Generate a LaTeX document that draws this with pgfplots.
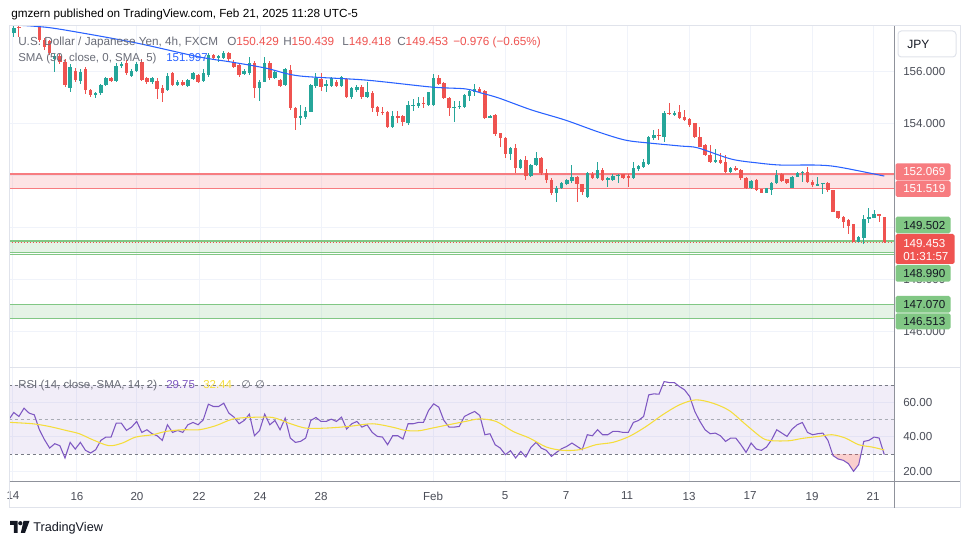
\documentclass[border=0pt]{standalone}
\usepackage{pgfplots}
\pgfplotsset{compat=1.18}
\usepackage{pgfplotstable}
\usepackage{fontspec}
\setmainfont{Liberation Sans}
\newfontfamily\dejavu{DejaVu Sans}

\definecolor{up}{HTML}{26A69A}
\definecolor{dn}{HTML}{EF5350}
\definecolor{smac}{HTML}{2962FF}
\definecolor{rsic}{HTML}{7E57C2}
\definecolor{rsima}{HTML}{F5DD3B}
\definecolor{gridc}{HTML}{F0F3FA}
\definecolor{zr}{HTML}{F77C80}
\definecolor{zg}{HTML}{81C784}
\definecolor{axtext}{HTML}{4A4D57}
\definecolor{legtext}{HTML}{6A6D78}
\definecolor{framec}{HTML}{E0E3EB}
\definecolor{scalec}{HTML}{8F929B}
\definecolor{dashc}{HTML}{787B86}
\definecolor{dash50}{HTML}{A9ACB5}
\definecolor{boxtext}{HTML}{131722}

\pgfplotstableread{
i o h l c
0 157.50 157.80 157.35 157.69
1 157.75 157.85 157.35 157.70
2 157.90 158.15 157.85 158.05
3 158.05 158.30 158.00 158.20
4 158.20 158.30 157.90 158.00
5 158.00 158.10 157.15 157.23
6 157.23 157.30 156.85 156.95
7 157.20 157.25 156.65 156.72
8 156.50 156.70 156.00 156.62
9 156.60 156.70 156.30 156.40
10 156.40 156.50 155.44 155.50
11 155.40 156.30 155.24 156.20
12 156.05 156.15 155.60 155.70
13 155.65 156.10 155.55 156.00
14 156.10 156.20 155.15 155.30
15 155.30 155.35 155.05 155.12
16 155.10 155.22 155.00 155.18
17 155.18 155.55 155.10 155.50
18 155.50 155.80 155.45 155.76
19 155.76 155.80 155.60 155.66
20 155.66 156.35 155.60 156.25
21 156.25 156.40 156.15 156.30
22 156.35 156.45 155.90 155.95
23 155.85 156.10 155.80 156.05
24 156.05 156.40 156.00 156.30
25 156.40 156.50 155.65 155.70
26 155.75 155.80 155.55 155.60
27 155.60 155.80 155.55 155.75
28 155.65 155.75 154.95 155.35
29 155.40 155.50 154.86 155.20
30 155.30 155.95 155.25 155.85
31 155.95 156.00 155.45 155.50
32 155.50 155.68 155.45 155.63
33 155.63 155.68 155.45 155.50
34 155.46 155.72 155.41 155.69
35 155.72 156.00 155.70 155.95
36 155.88 155.93 155.58 155.63
37 155.67 156.10 155.62 155.95
38 155.88 156.72 155.82 156.65
39 156.65 156.70 156.45 156.53
40 156.53 156.65 156.40 156.62
41 156.53 156.80 156.50 156.74
42 156.72 156.76 156.44 156.49
43 156.40 156.45 156.15 156.21
44 156.27 156.30 155.82 155.88
45 155.92 156.10 155.88 156.05
46 155.97 156.59 155.90 156.33
47 156.33 156.44 154.99 155.37
48 155.37 155.70 154.88 155.63
49 155.63 156.56 155.60 156.36
50 156.33 156.44 155.70 155.76
51 155.76 156.05 155.72 156.01
52 155.69 155.75 155.41 155.46
53 155.50 156.15 155.45 156.10
54 156.08 156.27 154.55 154.60
55 154.60 154.65 153.77 154.22
56 154.26 154.73 153.96 154.31
57 154.26 154.67 154.20 154.51
58 154.47 155.55 154.45 155.50
59 155.46 155.95 155.40 155.76
60 155.72 155.97 155.28 155.44
61 155.48 155.69 155.24 155.52
62 155.46 155.80 155.42 155.76
63 155.63 155.68 155.43 155.47
64 155.46 155.85 155.42 155.80
65 155.72 155.78 154.99 155.03
66 155.03 155.42 154.98 155.37
67 155.31 155.50 155.25 155.44
68 155.41 155.50 154.98 155.03
69 155.05 155.63 155.00 155.24
70 155.18 155.25 154.47 154.63
71 154.67 154.70 154.32 154.47
72 154.47 154.67 154.35 154.45
73 154.47 154.50 153.86 153.90
74 153.90 154.50 153.83 154.32
75 154.30 154.50 154.03 154.27
76 154.32 154.35 153.94 154.09
77 154.03 154.88 153.96 154.73
78 154.71 154.96 154.50 154.73
79 154.71 155.05 154.63 154.82
80 154.82 155.05 154.60 154.78
81 154.73 155.25 154.70 155.22
82 154.73 155.91 154.70 155.76
83 155.76 155.88 155.50 155.53
84 155.56 155.60 154.95 154.99
85 155.01 155.05 154.32 154.63
86 154.63 154.88 154.06 154.67
87 154.65 154.88 154.58 154.71
88 154.67 155.15 154.60 155.12
89 155.09 155.30 154.88 155.27
90 155.24 155.53 155.09 155.35
91 155.35 155.42 155.18 155.22
92 155.27 155.30 154.20 154.24
93 154.24 154.35 154.22 154.32
94 154.35 154.38 153.55 153.60
95 153.64 153.66 153.13 153.45
96 153.45 153.50 152.68 152.83
97 152.83 153.13 152.62 153.06
98 153.06 153.22 152.10 152.30
99 152.30 152.65 152.25 152.62
100 152.62 152.78 151.85 152.01
101 152.01 152.45 151.97 152.42
102 152.42 152.91 152.38 152.68
103 152.68 152.72 152.05 152.10
104 152.10 152.27 151.72 151.85
105 151.85 151.91 151.27 151.33
106 151.33 151.60 150.99 151.55
107 151.53 151.78 151.50 151.72
108 151.68 151.90 151.65 151.85
109 151.81 152.42 151.72 151.97
110 151.97 152.00 150.99 151.68
111 151.68 151.70 151.27 151.40
112 151.20 152.15 151.15 152.10
113 152.06 152.17 151.88 151.91
114 151.91 152.55 151.88 152.23
115 152.23 152.32 151.80 151.85
116 151.88 151.95 151.59 151.91
117 151.85 152.06 151.80 152.01
118 152.01 152.06 151.72 152.04
119 152.06 152.08 151.90 151.94
120 151.97 152.06 151.59 151.96
121 151.94 152.55 151.90 152.32
122 152.27 152.42 152.20 152.40
123 152.36 152.65 152.32 152.53
124 152.45 153.55 152.42 153.51
125 153.45 153.77 153.38 153.58
126 153.58 153.79 153.38 153.55
127 153.51 154.50 153.32 154.44
128 154.44 154.79 154.35 154.37
129 154.37 154.50 154.32 154.41
130 154.45 154.73 154.20 154.22
131 154.28 154.54 154.10 154.15
132 154.19 154.22 153.90 153.96
133 154.03 154.05 153.47 153.51
134 153.51 153.90 153.10 153.13
135 153.19 153.22 152.78 152.81
136 152.81 153.19 152.49 152.55
137 152.55 153.04 152.50 152.61
138 152.61 152.87 152.45 152.49
139 152.55 152.81 152.10 152.14
140 152.17 152.35 152.10 152.30
141 152.29 152.40 152.19 152.27
142 152.23 152.25 151.85 151.91
143 151.94 151.97 151.50 151.53
144 151.53 151.85 151.50 151.81
145 151.85 151.87 151.42 151.46
146 151.49 151.50 151.33 151.36
147 151.36 151.55 151.33 151.53
148 151.46 151.78 151.27 151.74
149 151.72 152.23 151.70 152.04
150 152.06 152.10 151.78 151.81
151 151.87 151.90 151.70 151.72
152 151.55 152.00 151.53 151.97
153 151.97 152.15 151.95 152.10
154 152.10 152.19 151.78 152.17
155 152.17 152.36 151.74 151.76
156 151.78 151.85 151.59 151.65
157 151.65 151.97 151.65 151.68
158 151.72 151.74 151.29 151.74
159 151.74 151.75 151.40 151.46
160 151.46 151.48 150.60 150.63
161 150.65 150.67 150.35 150.40
162 150.44 150.46 149.99 150.24
163 150.31 150.33 149.76 150.09
164 150.14 150.16 149.45 149.47
165 149.47 149.70 149.45 149.67
166 149.63 150.48 149.37 150.35
167 150.37 150.78 150.18 150.40
168 150.40 150.69 150.38 150.53
169 150.53 150.55 150.24 150.47
170 150.429 150.439 149.418 149.453
}\candles

\pgfplotstableread{
i v
-1 157.82
4 157.76
8.9 157.65
23.1 157.15
36.2 156.58
42.6 156.38
49.2 156.15
55.7 155.85
68.7 155.69
81.6 155.42
88.2 155.35
91.3 155.19
94.7 155.00
101.1 154.54
107.7 154.15
114.2 153.69
119.4 153.38
123.9 153.27
130.3 153.15
133.6 153.08
140.1 152.65
145.3 152.50
149.8 152.42
156.5 152.42
160.9 152.35
170 151.997
}\smadata

\pgfplotstableread{
i r
-1 49.97
0 54.23
1 51.91
2 56.74
3 53.84
4 52.87
5 44.18
6 38.38
7 33.55
8 36.06
9 34.90
10 27.75
11 36.84
12 32.97
13 36.84
14 32.20
15 30.65
16 32.58
17 38.00
18 39.93
19 39.93
20 48.04
21 48.04
22 43.79
23 45.72
24 49.01
25 42.63
26 44.18
27 41.86
28 40.70
29 38.00
30 47.08
31 42.63
32 43.79
33 42.63
34 47.08
35 48.43
36 47.08
37 49.97
38 59.06
39 57.70
40 57.70
41 59.64
42 53.84
43 51.52
44 47.66
45 49.59
46 53.26
47 40.70
48 43.79
49 53.26
50 47.08
51 49.59
52 44.18
53 50.94
54 39.35
55 36.84
56 37.41
57 39.35
58 49.59
59 51.33
60 49.01
61 49.01
62 50.36
63 49.01
64 51.52
65 44.56
66 47.66
67 49.01
68 45.72
69 47.08
70 42.63
71 40.31
72 39.93
73 35.48
74 40.70
75 40.70
76 38.77
77 47.66
78 47.66
79 48.43
80 48.43
81 55.39
82 59.25
83 57.32
84 49.59
85 45.72
86 45.72
87 46.11
88 51.91
89 53.45
90 54.81
91 52.50
92 41.28
93 41.86
94 35.48
95 33.55
96 29.69
97 32.00
98 27.75
99 31.62
100 28.33
101 33.94
102 36.84
103 33.55
104 32.20
105 28.72
106 31.04
107 33.16
108 34.51
109 36.45
110 34.51
111 32.58
112 41.28
113 40.70
114 44.18
115 41.28
116 41.28
117 43.21
118 43.21
119 42.63
120 42.63
121 48.43
122 49.59
123 51.91
124 64.47
125 65.05
126 64.85
127 72.20
128 71.62
129 71.62
130 69.30
131 67.37
132 63.50
133 54.81
134 49.01
135 44.18
136 41.86
137 42.24
138 40.70
139 37.41
140 39.35
141 39.35
142 35.48
143 31.04
144 36.45
145 32.97
146 32.20
147 34.13
148 38.38
149 44.18
150 42.24
151 40.31
152 44.56
153 47.08
154 48.43
155 42.63
156 41.28
157 41.86
158 42.24
159 38.00
160 29.11
161 27.17
162 26.40
163 24.47
164 20.02
165 23.89
166 37.41
167 38.00
168 39.93
169 39.35
170 29.75
}\rsidata

\pgfplotstableread{
i r
159.9 30
160 29.11
161 27.17
162 26.40
163 24.47
164 20.02
165 23.89
165.45 30
}\oversold

\pgfplotstableread{
i m
-1 48.50
3.7 47.66
6.9 46.11
10.2 43.79
12.8 41.86
15.4 38.38
18.6 34.90
21.2 36.45
23.8 39.93
27.1 41.28
29.7 43.21
32.9 44.18
36.2 44.18
39.4 46.50
42.7 50.36
45.9 51.33
50.5 51.33
53.7 48.04
57.0 45.14
60.9 45.14
65.4 46.11
70.0 47.66
73.9 45.72
76.5 43.79
79.1 43.60
81.7 45.14
84.9 47.08
88.2 49.01
91 50.50
94.2 49.01
97.5 43.21
100.7 39.35
104 34.13
107.2 32.20
110.5 32.58
113.7 35.48
117 36.84
120.2 40.31
123.5 46.11
126.7 52.87
130 58.67
133.2 61.57
136.5 59.64
139.7 55.39
143 47.08
146.2 39.35
148.1 37.80
151.4 37.80
154 39.15
157.2 40.31
159.8 41.28
162.4 39.35
165 35.48
167.6 34.13
170 32.44
}\rsimadata

\pgfplotsset{
  candle wick/.style={only marks, mark=*, mark size=0pt, mark options={draw=none, fill=none}, forget plot,
    /pgfplots/error bars/y dir=both, /pgfplots/error bars/y explicit,
    /pgfplots/error bars/error mark=none,
    /pgfplots/error bars/error bar style={line width=0.75pt, draw=#1}},
  candle body/.style={only marks, mark=*, mark size=0pt, mark options={draw=none, fill=none}, forget plot,
    /pgfplots/error bars/y dir=both, /pgfplots/error bars/y explicit,
    /pgfplots/error bars/error mark=none,
    /pgfplots/error bars/error bar style={line width=2.6pt, draw=#1}},
  tvlbl/.style={font=\fontsize{8.7}{10}\selectfont, text=axtext},
}

\begin{document}
\begin{tikzpicture}
\fill[white] (0,0) rectangle (727.5pt,408.75pt);

% ---------------- price pane ----------------
\begin{axis}[
  at={(7.5pt,133.5pt)}, anchor=south west,
  width=663pt, height=255.75pt, scale only axis,
  xmin=-0.742, xmax=171.9, ymin=144.65, ymax=157.77,
  axis line style={draw=none}, tick style={draw=none},
  xtick={-0.16,12.34,24.06,36.17,48.09,60.0,81.88,95.94,107.85,119.77,131.88,143.79,155.9,167.81},
  xticklabels={{},{},{},{},{},{},{},{},{},{},{},{},{},{}},
  ytick={146,148,150,152,154,156},
  yticklabels={146.000,148.000,{},{},154.000,156.000},
  yticklabel pos=right,
  yticklabel style={tvlbl, anchor=west, inner sep=0pt, xshift=6.75pt},
  grid=major, major grid style={draw=gridc, line width=0.75pt},
  unbounded coords=discard,
]
% zones
\addplot[draw=none, fill=zr, fill opacity=0.2, forget plot] coordinates {(-1,151.519) (173,151.519) (173,152.069) (-1,152.069)};
\addplot[draw=none, fill=zg, fill opacity=0.2, forget plot] coordinates {(-1,149.065) (173,149.065) (173,149.502) (-1,149.502)};
\addplot[draw=none, fill=zg, fill opacity=0.2, forget plot] coordinates {(-1,146.513) (173,146.513) (173,147.070) (-1,147.070)};
\addplot[zr, line width=1.2pt, forget plot] coordinates {(-1,152.069) (173,152.069)};
\addplot[zr, line width=1.2pt, forget plot] coordinates {(-1,151.519) (173,151.519)};
\addplot[zg, line width=1.2pt, forget plot] coordinates {(-1,149.502) (173,149.502)};
\addplot[zg, line width=0.75pt, forget plot] coordinates {(-1,149.065) (173,149.065)};
\addplot[zg, line width=0.75pt, forget plot] coordinates {(-1,148.990) (173,148.990)};
\addplot[zg, line width=0.75pt, forget plot] coordinates {(-1,147.070) (173,147.070)};
\addplot[zg, line width=1.3pt, forget plot] coordinates {(-1,146.513) (173,146.513)};
\addplot[dn, line width=0.75pt, dash pattern=on 0.75pt off 1.5pt, forget plot] coordinates {(-1,149.453) (173,149.453)};
% candles
\addplot[candle wick=up, restrict expr to domain={\thisrow{c}-\thisrow{o}}{0:100}]
  table[x=i, y expr={(\thisrow{h}+\thisrow{l})/2}, y error expr={(\thisrow{h}-\thisrow{l})/2}] {\candles};
\addplot[candle wick=dn, restrict expr to domain={\thisrow{c}-\thisrow{o}}{-100:-0.00001}]
  table[x=i, y expr={(\thisrow{h}+\thisrow{l})/2}, y error expr={(\thisrow{h}-\thisrow{l})/2}] {\candles};
\addplot[candle body=up, restrict expr to domain={\thisrow{c}-\thisrow{o}}{0:100}]
  table[x=i, y expr={(\thisrow{o}+\thisrow{c})/2}, y error expr={max(abs(\thisrow{c}-\thisrow{o})/2,0.018)}] {\candles};
\addplot[candle body=dn, restrict expr to domain={\thisrow{c}-\thisrow{o}}{-100:-0.00001}]
  table[x=i, y expr={(\thisrow{o}+\thisrow{c})/2}, y error expr={max(abs(\thisrow{c}-\thisrow{o})/2,0.018)}] {\candles};
% SMA
\addplot[smac, line width=0.8pt, smooth, forget plot] table[x=i, y=v] {\smadata};
\end{axis}

% ---------------- RSI pane ----------------
\begin{axis}[
  at={(7.5pt,47.25pt)}, anchor=south west,
  width=663pt, height=85.5pt, scale only axis,
  xmin=-0.742, xmax=171.9, ymin=13.8, ymax=80.1,
  axis line style={draw=none}, tick style={draw=none},
  xtick={-0.16,12.34,24.06,36.17,48.09,60.0,81.88,95.94,107.85,119.77,131.88,143.79,155.9,167.81},
  xticklabels={14,16,20,22,24,28,Feb,5,7,11,13,17,19,21},
  xticklabel style={tvlbl, anchor=north, inner sep=0pt, yshift=-7.3pt},
  ytick={20,40,60},
  yticklabels={20.00,40.00,60.00},
  yticklabel pos=right,
  yticklabel style={tvlbl, anchor=west, inner sep=0pt, xshift=6.75pt},
  grid=major, major grid style={draw=gridc, line width=0.75pt},
]
\addplot[draw=none, fill=rsic, fill opacity=0.1, forget plot] coordinates {(-1,30) (173,30) (173,70) (-1,70)};
\addplot[dashc, line width=0.75pt, dash pattern=on 2.5pt off 2pt, forget plot] coordinates {(-1,70) (173,70)};
\addplot[dash50, line width=0.75pt, dash pattern=on 2.5pt off 2pt, forget plot] coordinates {(-1,50) (173,50)};
\addplot[dashc, line width=0.75pt, dash pattern=on 2.5pt off 2pt, forget plot] coordinates {(-1,30) (173,30)};
\addplot[draw=none, fill=dn, fill opacity=0.28, forget plot] table[x=i, y=r] {\oversold};
\addplot[rsic, line width=0.8pt, forget plot] table[x=i, y=r] {\rsidata};
\addplot[rsima, line width=0.8pt, smooth, forget plot] table[x=i, y=m] {\rsimadata};
\end{axis}

% ---------------- decorations (pixel coordinates, y downward) ----------------
\begin{scope}[x=0.75pt, y=-0.75pt, shift={(0pt,408.75pt)}]
\draw[framec, line width=0.75pt] (9.5,26) rectangle (960,508);
\draw[framec, line width=0.9pt] (9.5,367.5) -- (960,367.5);
\draw[scalec, line width=0.75pt] (894,26) -- (894,508);
\draw[scalec, line width=0.75pt] (9.5,482) -- (960,482);

% price scale boxes
\fill[zr, rounded corners=1.2pt] (895.5,163.3) rectangle (950.5,180.5);
\node[anchor=west, inner sep=0, font=\fontsize{8.7}{10}\selectfont, text=white] at (903,171.9) {152.069};
\fill[zr, rounded corners=1.2pt] (895.5,180.7) rectangle (950.5,196.8);
\node[anchor=west, inner sep=0, font=\fontsize{8.7}{10}\selectfont, text=white] at (903,189) {151.519};
\fill[zg, rounded corners=1.2pt] (895.5,216.7) rectangle (950.5,233.3);
\node[anchor=west, inner sep=0, font=\fontsize{8.7}{10}\selectfont, text=boxtext] at (903,225.2) {149.502};
\fill[dn, rounded corners=1.2pt] (895.5,234) rectangle (954.5,264);
\node[anchor=west, inner sep=0, font=\fontsize{8.7}{10}\selectfont, text=white] at (903,243.4) {149.453};
\node[anchor=west, inner sep=0, font=\fontsize{8.7}{10}\selectfont, text=white] at (903,256.7) {01:31:57};
\fill[zg, rounded corners=1.2pt] (895.5,265) rectangle (950.5,281.7);
\node[anchor=west, inner sep=0, font=\fontsize{8.7}{10}\selectfont, text=boxtext] at (903,273.5) {148.990};
\fill[zg, rounded corners=1.2pt] (895.5,296) rectangle (950.5,312.7);
\node[anchor=west, inner sep=0, font=\fontsize{8.7}{10}\selectfont, text=boxtext] at (903,304.6) {147.070};
\fill[zg, rounded corners=1.2pt] (895.5,313.3) rectangle (950.5,329.3);
\node[anchor=west, inner sep=0, font=\fontsize{8.7}{10}\selectfont, text=boxtext] at (903,321.4) {146.513};

% JPY button
\draw[framec, fill=white, rounded corners=2.5pt, line width=0.75pt] (898,31) rectangle (956,57);
\node[anchor=base west, inner sep=0, font=\fontsize{9}{10}\selectfont, text=boxtext] at (907,49) {JPY};

% header
\node[anchor=base west, inner sep=0, font=\fontsize{8.8}{10}\selectfont, text=black] at (11,18) {gmzern published on TradingView.com, Feb 21, 2025 11:28 UTC-5};

% legend line 1
\node[anchor=base west, inner sep=0, font=\fontsize{8.8}{10}\selectfont, text=legtext] at (18,45.5) {U.S. Dollar / Japanese Yen, 4h, FXCM};
\node[anchor=base west, inner sep=0, font=\fontsize{8.8}{10}\selectfont] at (227,45.5) {\textcolor{legtext}{O}\textcolor{dn}{150.429}};
\node[anchor=base west, inner sep=0, font=\fontsize{8.8}{10}\selectfont] at (283,45.5) {\textcolor{legtext}{H}\textcolor{dn}{150.439}};
\node[anchor=base west, inner sep=0, font=\fontsize{8.8}{10}\selectfont] at (342,45.5) {\textcolor{legtext}{L}\textcolor{dn}{149.418}};
\node[anchor=base west, inner sep=0, font=\fontsize{8.8}{10}\selectfont] at (397,45.5) {\textcolor{legtext}{C}\textcolor{dn}{149.453}};
\node[anchor=base west, inner sep=0, font=\fontsize{8.8}{10}\selectfont, text=dn] at (453,45.5) {−0.976 (−0.65\%)};
% legend line 2
\node[anchor=base west, inner sep=0, font=\fontsize{8.6}{10}\selectfont, text=legtext] at (18,62) {SMA (50, close, 0, SMA, 5)};
\node[anchor=base west, inner sep=0, font=\fontsize{8.6}{10}\selectfont, text=smac] at (166,62) {151.997};

% RSI legend
\node[anchor=base west, inner sep=0, font=\fontsize{8.6}{10}\selectfont, text=legtext] at (18,389) {RSI (14, close, SMA, 14, 2)};
\node[anchor=base west, inner sep=0, font=\fontsize{8.6}{10}\selectfont, text=rsic] at (166,389) {29.75};
\node[anchor=base west, inner sep=0, font=\fontsize{8.6}{10}\selectfont, text=rsima] at (203,389) {32.44};
\node[anchor=base west, inner sep=0, font=\dejavu\fontsize{8.2}{10}\selectfont, text=legtext] at (241,389) {∅};
\node[anchor=base west, inner sep=0, font=\dejavu\fontsize{8.2}{10}\selectfont, text=legtext] at (255,389) {∅};

% TradingView logo
\fill[boxtext] (10,521) -- (17.5,521) -- (17.5,533) -- (13.8,533) -- (13.8,525) -- (10,525) -- cycle;
\fill[boxtext] (20.3,523.2) circle (2.1);
\fill[boxtext] (23.5,521) -- (29.5,521) -- (25,533) -- (20.8,533) -- cycle;
\node[anchor=base west, inner sep=0, font=\fontsize{9.5}{10}\selectfont, text=boxtext] at (33,532) {TradingView};
\end{scope}

\pgfresetboundingbox
\path (0,0) rectangle (727.5pt,408.75pt);
\end{tikzpicture}
\end{document}
